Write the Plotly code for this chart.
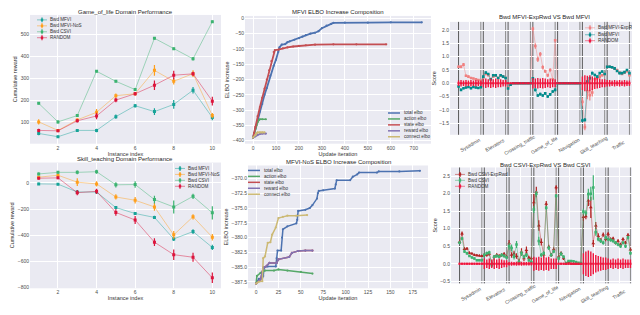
import plotly.graph_objects as go

W, H = 640, 315
FONT = "Liberation Sans, Arial, sans-serif"
BG = "#EAEAF2"
TXT = "#262626"
TICK = "#4d4d4d"

# ---------------- data ----------------
instances = [1, 2, 3, 4, 5, 6, 7, 8, 9, 10]

# Game_of_life domain performance
gol_mfvi = [47, 32, 61, 61, 124, 174, 147, 180, 245, 120]
gol_mfvi_err = [8, 6, 6, 8, 10, 8, 15, 20, 15, 12]
gol_mfvi_nos = [100, 61, 109, 144, 220, 229, 336, 286, 321, 129]
gol_mfvi_nos_err = [12, 6, 8, 15, 10, 8, 25, 15, 15, 12]
gol_csvi = [185, 100, 129, 332, 286, 248, 483, 435, 389, 559]
gol_csvi_err = [5, 8, 6, 5, 6, 6, 6, 6, 8, 5]
gol_random = [61, 59, 105, 127, 200, 229, 268, 314, 320, 195]
gol_random_err = [8, 6, 8, 15, 10, 8, 22, 20, 10, 20]

# Skill_teaching domain performance
sk_mfvi = [-8, -10, -70, -70, -189, -234, -264, -428, -372, -493]
sk_mfvi_err = [8, 8, 15, 15, 12, 12, 12, 15, 18, 20]
sk_mfvi_nos = [43, 58, 5, -8, -108, -133, -184, -397, -259, -415]
sk_mfvi_nos_err = [10, 10, 30, 20, 20, 25, 30, 30, 20, 25]
sk_csvi = [68, 80, 80, 85, -15, -13, -128, -184, -103, -229]
sk_csvi_err = [10, 10, 15, 15, 20, 25, 30, 50, 20, 50]
sk_random = [35, 38, -75, -65, -226, -284, -453, -548, -568, -725]
sk_random_err = [10, 10, 20, 20, 25, 30, 30, 40, 35, 40]

# MFVI ELBO increase composition
mfvi_total_x = [0, 5, 10, 20, 30, 40, 50, 60, 75, 90, 100, 110, 115, 125, 140, 150, 160, 180, 200,
                215, 230, 250, 270, 285, 300, 320, 340, 350, 400, 500, 600, 735]
mfvi_total_y = [-390, -375, -360, -335, -305, -280, -250, -228, -188, -155, -135, -110, -95, -86, -84,
                -78, -75, -70, -65, -60, -55, -50, -47, -42, -32, -24, -18, -15, -14, -14, -13, -13]
mfvi_action_x = [0, 5, 10, 15, 20, 25, 30, 40, 56]
mfvi_action_y = [-390, -375, -362, -350, -340, -333, -330, -330, -330]
mfvi_state_x = [0, 5, 10, 20, 30, 40, 50, 60, 70, 80, 90, 95, 110, 130, 150, 175, 200, 230, 270, 350, 450, 580]
mfvi_state_y = [-390, -375, -355, -320, -290, -260, -230, -200, -170, -140, -110, -104, -102, -98, -95,
                -92, -90, -88, -86, -85, -85, -85]
mfvi_reward_x = [0, 10, 20, 30, 40, 56]
mfvi_reward_y = [-390, -386, -380, -378, -377, -377]
mfvi_connect_x = [0, 10, 15, 20, 30, 40, 50]
mfvi_connect_y = [-390, -382, -376, -373, -373, -373, -373]

# MFVI-NoS ELBO increase composition
nos_total_x = [0, 3, 7, 8, 9, 13, 22, 23, 24, 28, 29, 30, 35, 45, 46, 47, 55, 60, 63, 68, 69, 70, 75,
               88, 89, 90, 105, 108, 113, 115, 135, 137, 160, 183]
nos_total_y = [-387.8, -387.0, -386.8, -386.5, -385.1, -384.9, -384.9, -383.5, -382.2, -382.2, -380.0,
               -378.6, -378.1, -377.6, -377.0, -375.5, -375.3, -375.0, -374.5, -373.4, -372.5, -372.1,
               -372.0, -371.7, -371.0, -370.3, -370.3, -369.7, -369.3, -369.0, -369.0, -368.8, -368.8, -368.7]
nos_action_x = [0, 1, 5, 10, 20, 25, 35, 50, 63]
nos_action_y = [-387.7, -386.5, -386.0, -385.6, -385.6, -385.4, -385.6, -385.8, -386.1]
nos_state_x = [0, 5, 8, 10, 15, 23, 25, 37, 40, 47, 55, 63]
nos_state_y = [-387.8, -387.1, -385.1, -385.0, -384.3, -384.3, -383.7, -383.3, -382.6, -382.3, -382.2, -382.2]
nos_reward_x = [0, 5, 8, 10, 15, 23, 25, 37, 40, 47, 55, 63]
nos_reward_y = [-387.8, -387.1, -385.1, -385.0, -384.3, -384.3, -383.7, -383.3, -382.6, -382.3, -382.2, -382.2]
nos_connect_x = [0, 3, 7, 8, 10, 13, 16, 18, 22, 25, 30, 35, 45, 57]
nos_connect_y = [-387.8, -387.5, -387.4, -383.5, -383.2, -380.9, -380.8, -379.5, -378.3, -376.7, -376.5,
                 -376.3, -376.3, -376.2]

# Domain comparison panels (10 instances per domain)
domains = ["Sysadmin", "Elevators", "Crossing_traffic", "Game_of_life", "Navigation", "Skill_teaching", "Traffic"]
domain_sizes = [10, 10, 10, 10, 10, 10, 10]

mfvi_exprwd = [0.62, 0.62, 0.70, 0.28, 0.25, 0.20, 0.18, 0.15, 0.12, 0.10,
               0.20, 0.35, 0.30, 0.15, 0.25, 0.28, 0.20, 0.28, 0.25, 0.20,
               -0.15, -0.05, 0.0, 0.0, 0.0, 0.0, 0.0, 0.0, 0.0, 0.0,
               2.05, 1.40, 0.90, 1.10, 0.60, 0.45, 0.30, 0.50, 0.15, 1.62,
               0.0, 0.0, 0.0, 0.0, 0.0, 0.0, 0.0, 0.0, 0.0, 0.0,
               -0.70, -1.65, -0.30, -0.45, -0.35, 0.15, 0.20, 0.25, 0.30, 0.35,
               0.62, 0.62, 0.60, 0.55, 0.50, 0.40, 0.35, 0.40, 0.45, 0.30]
mfvi_exprwd_err = [0.05, 0.06, 0.06, 0.04, 0.04, 0.03, 0.03, 0.03, 0.03, 0.03,
                   0.04, 0.04, 0.04, 0.04, 0.04, 0.04, 0.04, 0.04, 0.04, 0.04,
                   0.03, 0.02, 0.01, 0.01, 0.01, 0.01, 0.01, 0.01, 0.01, 0.01,
                   0.08, 0.10, 0.10, 0.08, 0.08, 0.06, 0.06, 0.06, 0.05, 0.05,
                   0.01, 0.01, 0.01, 0.01, 0.01, 0.01, 0.01, 0.01, 0.01, 0.01,
                   0.15, 0.12, 0.30, 0.20, 0.15, 0.10, 0.08, 0.06, 0.05, 0.05,
                   0.04, 0.04, 0.04, 0.04, 0.04, 0.04, 0.04, 0.04, 0.04, 0.04]
mfvi_plain = [-0.12, -0.25, -0.19, -0.16, -0.14, -0.19, -0.14, -0.16, -0.18, -0.15,
              0.25, 0.40, 0.35, 0.15, 0.30, 0.30, 0.20, 0.30, 0.25, 0.20,
              -0.20, -0.05, 0.0, 0.0, 0.0, 0.0, 0.0, 0.0, 0.0, 0.0,
              0.19, -0.25, -0.46, -0.41, -0.46, -0.38, -0.50, -0.42, -0.31, -0.25,
              0.0, 0.0, 0.0, 0.0, 0.0, 0.0, 0.0, 0.0, 0.0, 0.0,
              -1.40, -1.38, 0.06, 0.19, 0.38, 0.31, 0.25, 0.38, 0.44, 0.35,
              0.62, 0.62, 0.60, 0.56, 0.46, 0.38, 0.38, 0.42, 0.50, 0.38]
mfvi_plain_err = [0.04] * 10 + [0.04] * 10 + [0.02] * 10 + [0.05] * 10 + [0.01] * 10 + \
                 [0.06, 0.06, 0.05, 0.05, 0.05, 0.05, 0.04, 0.04, 0.04, 0.04] + [0.04] * 10
mfvi_random_err = [0.10, 0.12, 0.10, 0.12, 0.10, 0.12, 0.10, 0.12, 0.10, 0.10,
                   0.15, 0.18, 0.15, 0.18, 0.15, 0.18, 0.15, 0.15, 0.12, 0.12,
                   0.03, 0.03, 0.03, 0.03, 0.03, 0.03, 0.03, 0.03, 0.03, 0.03,
                   0.20, 0.18, 0.20, 0.18, 0.20, 0.18, 0.15, 0.18, 0.15, 0.15,
                   0.03, 0.03, 0.03, 0.03, 0.03, 0.03, 0.03, 0.03, 0.03, 0.03,
                   0.25, 0.30, 0.28, 0.30, 0.25, 0.22, 0.20, 0.18, 0.15, 0.15,
                   0.12, 0.12, 0.10, 0.12, 0.10, 0.12, 0.10, 0.12, 0.10, 0.10]

csvi_exprwd = [0.62, 0.86, 0.42, 0.43, 0.31, 0.29, 0.25, 0.24, 0.23, 0.22,
               0.25, 0.25, 0.28, 0.0, 0.20, 0.25, 0.22, 0.25, 0.28, 0.20,
               0.58, 0.25, 0.29, 0.22, 0.06, 0.34, 0.15, 0.39, 0.17, 0.15,
               1.75, 2.05, 1.09, 0.62, 0.26, 1.71, 0.48, 0.25, 0.41, 2.18,
               0.20, 0.30, 0.15, 0.0, 0.05, 0.0, 0.0, 0.0, 0.0, 0.0,
               1.33, 1.35, 1.80, 1.61, 0.58, 1.09, 0.79, 0.67, 0.83, 0.70,
               0.85, 0.70, 0.72, 0.60, 0.65, 0.55, 0.70, 0.60, 0.82, 0.40]
csvi_exprwd_err = [0.04, 0.06, 0.05, 0.04, 0.04, 0.03, 0.03, 0.03, 0.03, 0.03,
                   0.05, 0.05, 0.05, 0.05, 0.05, 0.05, 0.05, 0.05, 0.05, 0.05,
                   0.10, 0.08, 0.08, 0.08, 0.08, 0.10, 0.08, 0.10, 0.06, 0.06,
                   0.25, 0.15, 0.15, 0.10, 0.08, 0.08, 0.06, 0.06, 0.06, 0.06,
                   0.05, 0.05, 0.04, 0.02, 0.02, 0.02, 0.02, 0.02, 0.02, 0.02,
                   0.10, 0.08, 0.15, 0.30, 0.10, 0.10, 0.08, 0.06, 0.06, 0.06,
                   0.05, 0.05, 0.05, 0.05, 0.05, 0.05, 0.05, 0.05, 0.05, 0.05]
csvi_plain = [0.60, 0.72, 0.35, 0.30, 0.22, 0.18, 0.15, 0.10, 0.10, 0.10,
              0.25, 0.30, 0.32, -0.04, 0.20, 0.22, 0.20, 0.25, 0.22, 0.18,
              0.50, 0.45, 0.20, 0.55, 0.05, 0.30, 0.20, 0.25, 0.10, 0.05,
              1.55, 2.00, 0.65, 0.25, 0.30, 1.60, 0.45, 0.25, 0.35, 1.94,
              0.15, 0.28, 0.20, 0.02, 0.08, 0.08, 0.07, 0.05, 0.03, 0.02,
              1.49, 1.45, 1.99, 2.00, 2.18, 0.90, 0.70, 0.65, 0.60, 0.75,
              0.70, 0.68, 0.65, 0.60, 0.55, 0.50, 0.60, 0.50, 0.75, 0.30]
csvi_plain_err = [0.04, 0.05, 0.04, 0.04, 0.03, 0.03, 0.03, 0.03, 0.03, 0.03,
                  0.05, 0.05, 0.05, 0.05, 0.05, 0.05, 0.05, 0.05, 0.05, 0.05,
                  0.10, 0.10, 0.08, 0.10, 0.06, 0.08, 0.06, 0.06, 0.05, 0.05,
                  0.10, 0.08, 0.12, 0.06, 0.06, 0.06, 0.06, 0.05, 0.05, 0.05,
                  0.05, 0.06, 0.04, 0.02, 0.02, 0.02, 0.02, 0.02, 0.02, 0.02,
                  0.08, 0.08, 0.15, 0.20, 0.35, 0.10, 0.06, 0.06, 0.06, 0.06,
                  0.05, 0.05, 0.05, 0.05, 0.05, 0.05, 0.05, 0.05, 0.05, 0.05]
csvi_random_err = [0.03, 0.03, 0.03, 0.03, 0.03, 0.03, 0.03, 0.03, 0.03, 0.03,
                   0.15, 0.12, 0.15, 0.12, 0.15, 0.12, 0.15, 0.12, 0.10, 0.10,
                   0.05, 0.06, 0.05, 0.06, 0.05, 0.06, 0.05, 0.05, 0.05, 0.05,
                   0.20, 0.18, 0.20, 0.18, 0.20, 0.18, 0.20, 0.15, 0.15, 0.15,
                   0.03, 0.03, 0.03, 0.03, 0.03, 0.03, 0.03, 0.03, 0.03, 0.03,
                   0.30, 0.35, 0.38, 0.35, 0.30, 0.25, 0.22, 0.20, 0.18, 0.18,
                   0.15, 0.12, 0.15, 0.12, 0.15, 0.12, 0.15, 0.12, 0.12, 0.12]

# ---------------- helpers ----------------
def fx(px):
    return px / W


def fy(py):
    return 1 - py / H


def rgba(hexc, a):
    h = hexc.lstrip("#")
    r, g, b = int(h[0:2], 16), int(h[2:4], 16), int(h[4:6], 16)
    return f"rgba({r},{g},{b},{a})"


C_TEAL = "#17A398"
C_ORANGE = "#FF9F1C"
C_GREEN = "#3CB371"
C_RED = "#DC143C"
C_PINK = "#F08080"
C_DCYAN = "#008B8B"
C_RAND = "#F0143C"
C_FIRE = "#B22222"
D_BLUE = "#4C72B0"
D_GREEN = "#55A868"
D_RED = "#C44E52"
D_PURPLE = "#8172B2"
D_YELLOW = "#CCB974"

fig = go.Figure()


def err_trace(x, y, err, color, ax, symbol="square", size=3.0, alpha=0.45, lw=1.0, ew=1.2):
    fig.add_trace(go.Scatter(
        x=x, y=y, mode="lines+markers",
        line=dict(color=rgba(color, alpha), width=lw),
        marker=dict(symbol=symbol, size=size, color=color, line=dict(width=0)),
        error_y=dict(type="data", array=err, color=color, thickness=ew, width=0),
        xaxis="x" + ax, yaxis="y" + ax, showlegend=False, hoverinfo="skip"))


def line_trace(x, y, color, ax, lw=1.6):
    fig.add_trace(go.Scatter(
        x=x, y=y, mode="lines+markers",
        line=dict(color=color, width=lw),
        marker=dict(size=2.2, color=color),
        xaxis="x" + ax, yaxis="y" + ax, showlegend=False, hoverinfo="skip"))


# top-left: Game_of_life
err_trace(instances, gol_mfvi, gol_mfvi_err, C_TEAL, "")
err_trace(instances, gol_mfvi_nos, gol_mfvi_nos_err, C_ORANGE, "")
err_trace(instances, gol_csvi, gol_csvi_err, C_GREEN, "")
err_trace(instances, gol_random, gol_random_err, C_RED, "")

# top-middle: MFVI ELBO
line_trace(mfvi_total_x, mfvi_total_y, D_BLUE, "2", 1.8)
line_trace(mfvi_action_x, mfvi_action_y, D_GREEN, "2", 1.6)
line_trace(mfvi_state_x, mfvi_state_y, D_RED, "2", 1.8)
line_trace(mfvi_reward_x, mfvi_reward_y, D_PURPLE, "2", 1.6)
line_trace(mfvi_connect_x, mfvi_connect_y, D_YELLOW, "2", 1.6)

# domain index axis for right panels
idx = list(range(sum(domain_sizes)))
starts = [sum(domain_sizes[:i]) for i in range(len(domain_sizes))]
zeros = [0.0] * len(idx)

# top-right: MFVI-ExpRwd vs MFVI
err_trace(idx, mfvi_exprwd, mfvi_exprwd_err, C_PINK, "3", size=2.6, alpha=0.5, lw=0.9)
err_trace(idx, mfvi_plain, mfvi_plain_err, C_DCYAN, "3", size=2.6, alpha=0.5, lw=0.9)
err_trace(idx, zeros, mfvi_random_err, C_RAND, "3", size=2.2, alpha=0.6, lw=0.9, ew=1.4)

# bottom-left: Skill_teaching
err_trace(instances, sk_mfvi, sk_mfvi_err, C_TEAL, "4")
err_trace(instances, sk_mfvi_nos, sk_mfvi_nos_err, C_ORANGE, "4")
err_trace(instances, sk_csvi, sk_csvi_err, C_GREEN, "4")
err_trace(instances, sk_random, sk_random_err, C_RED, "4")

# bottom-middle: MFVI-NoS ELBO
line_trace(nos_total_x, nos_total_y, D_BLUE, "5", 1.5)
line_trace(nos_action_x, nos_action_y, D_GREEN, "5", 1.5)
line_trace(nos_state_x, nos_state_y, D_RED, "5", 1.5)
line_trace(nos_reward_x, nos_reward_y, D_PURPLE, "5", 1.5)
line_trace(nos_connect_x, nos_connect_y, D_YELLOW, "5", 1.5)

# bottom-right: CSVI-ExpRwd vs CSVI
err_trace(idx, csvi_exprwd, csvi_exprwd_err, C_FIRE, "6", symbol="triangle-up", size=3.4, alpha=0.5, lw=0.9)
err_trace(idx, csvi_plain, csvi_plain_err, C_GREEN, "6", size=2.6, alpha=0.5, lw=0.9)
err_trace(idx, zeros, csvi_random_err, C_RAND, "6", size=2.2, alpha=0.6, lw=0.9, ew=1.4)

# ---------------- layout ----------------
panels = {
    "": dict(xd=(22, 213), yd=(6, 136)),
    "2": dict(xd=(237, 423), yd=(7, 136)),
    "3": dict(xd=(442, 630), yd=(13, 127)),
    "4": dict(xd=(22, 213), yd=(155, 282)),
    "5": dict(xd=(240, 420), yd=(158, 282)),
    "6": dict(xd=(443, 631), yd=(160, 277)),
}

tickfont = dict(family=FONT, size=5, color=TICK)
titlefont = dict(family=FONT, size=5.5, color="#333333")
lay = {}
for k, p in panels.items():
    xa = dict(domain=[fx(p["xd"][0]), fx(p["xd"][1])], anchor="y" + k, showgrid=True,
              gridcolor="white", gridwidth=1, zeroline=False, showline=False, ticks="",
              tickfont=tickfont)
    ya = dict(domain=[fy(p["yd"][1]), fy(p["yd"][0])], anchor="x" + k, showgrid=True,
              gridcolor="white", gridwidth=1, zeroline=False, showline=False, ticks="",
              tickfont=tickfont)
    lay["xaxis" + k] = xa
    lay["yaxis" + k] = ya

# ranges / ticks
lay["xaxis"].update(range=[0.55, 10.45], tickvals=[2, 4, 6, 8, 10],
                    title=dict(text="Instance index", font=titlefont, standoff=1))
lay["yaxis"].update(range=[0, 590], tickvals=[100, 200, 300, 400, 500],
                    title=dict(text="Cumulative reward", font=titlefont, standoff=2))
lay["xaxis2"].update(range=[-35, 775], tickvals=[0, 100, 200, 300, 400, 500, 600, 700],
                     title=dict(text="Update iteration", font=titlefont, standoff=1))
lay["yaxis2"].update(range=[-410, 8], tickvals=[-400, -350, -300, -250, -200, -150, -100, -50, 0],
                     title=dict(text="ELBO increase", font=titlefont, standoff=2))
lay["xaxis3"].update(range=[-3.45, 72.45], tickvals=[s + (n - 1) / 2 for s, n in zip(starts, domain_sizes)],
                     showticklabels=False)
lay["yaxis3"].update(range=[-1.94, 2.31], tickvals=[-1.5, -1.0, -0.5, 0.0, 0.5, 1.0, 1.5, 2.0],
                     tickformat=".1f", title=dict(text="Score", font=titlefont, standoff=2))
lay["xaxis4"].update(range=[0.55, 10.45], tickvals=[2, 4, 6, 8, 10],
                     title=dict(text="Instance index", font=titlefont, standoff=1))
lay["yaxis4"].update(range=[-805, 155], tickvals=[-800, -600, -400, -200, 0],
                     title=dict(text="Cumulative reward", font=titlefont, standoff=2))
lay["xaxis5"].update(range=[-9, 192], tickvals=[0, 25, 50, 75, 100, 125, 150, 175],
                     title=dict(text="Update iteration", font=titlefont, standoff=1))
lay["yaxis5"].update(range=[-388.6, -367.8],
                     tickvals=[-387.5, -385.0, -382.5, -380.0, -377.5, -375.0, -372.5, -370.0],
                     tickformat=".1f", title=dict(text="ELBO increase", font=titlefont, standoff=2))
lay["xaxis6"].update(range=[-3.45, 72.45], tickvals=[s + (n - 1) / 2 for s, n in zip(starts, domain_sizes)],
                     showticklabels=False)
lay["yaxis6"].update(range=[-0.56, 2.75], tickvals=[-0.5, 0.0, 0.5, 1.0, 1.5, 2.0, 2.5],
                     tickformat=".1f", title=dict(text="Score", font=titlefont, standoff=2))

shapes = []
annotations = []

# panel titles
titles = [("Game_of_life Domain Performance", 117, 3),
          ("MFVI ELBO Increase Composition", 330, 3),
          ("Bwd MFVI-ExpRwd VS Bwd MFVI", 536, 8),
          ("Skill_teaching Domain Performance", 117, 151),
          ("MFVI-NoS ELBO Increase Composition", 330, 154),
          ("Bwd CSVI-ExpRwd VS Bwd CSVI", 537, 157)]
for t, x, y in titles:
    annotations.append(dict(text=t, x=fx(x), y=fy(y), xref="paper", yref="paper", showarrow=False,
                            font=dict(family=FONT, size=6, color=TXT), xanchor="center", yanchor="middle"))

# domain separators and rotated domain labels
for ax, label_y in (("3", 137), ("6", 288)):
    for s, n in zip(starts, domain_sizes):
        for xv, col in ((s, "#5a5a5a"), (s + n - 1, "#8a8a8a")):
            shapes.append(dict(type="line", xref="x" + ax, yref="y" + ax + " domain", x0=xv, x1=xv,
                               y0=0, y1=1, line=dict(color=col, width=1), layer="below"))
    for s, n, name in zip(starts, domain_sizes, domains):
        annotations.append(dict(text=name, x=s + (n - 1) / 2, y=fy(label_y), xref="x" + ax, yref="paper",
                                showarrow=False, textangle=-30, font=dict(family=FONT, size=5, color=TICK),
                                xanchor="center", yanchor="middle"))


# manual compact legends
def legend(x_marker, x_text, rows_y, items, kind):
    for (label, color), yy in zip(items, rows_y):
        if kind == "err":
            shapes.append(dict(type="line", xref="paper", yref="paper", x0=fx(x_marker - 5), x1=fx(x_marker + 5),
                               y0=fy(yy), y1=fy(yy), line=dict(color=rgba(color, 0.5), width=1)))
            shapes.append(dict(type="line", xref="paper", yref="paper", x0=fx(x_marker), x1=fx(x_marker),
                               y0=fy(yy - 2.5), y1=fy(yy + 2.5), line=dict(color=color, width=1.2)))
            shapes.append(dict(type="rect", xref="paper", yref="paper", x0=fx(x_marker - 1.2), x1=fx(x_marker + 1.2),
                               y0=fy(yy - 1.2), y1=fy(yy + 1.2), fillcolor=color, line=dict(width=0)))
        else:
            shapes.append(dict(type="line", xref="paper", yref="paper", x0=fx(x_marker - 6), x1=fx(x_marker + 6),
                               y0=fy(yy), y1=fy(yy), line=dict(color=color, width=1.5)))
        annotations.append(dict(text=label, x=fx(x_text), y=fy(yy), xref="paper", yref="paper", showarrow=False,
                                xanchor="left", yanchor="middle", font=dict(family=FONT, size=4.6, color="#333333")))


perf_items = [("Bwd MFVI", C_TEAL), ("Bwd MFVI-NoS", C_ORANGE),
              ("Bwd CSVI", C_GREEN), ("RANDOM", C_RED)]
elbo_items = [("total elbo", D_BLUE), ("action elbo", D_GREEN), ("state elbo", D_RED),
              ("reward elbo", D_PURPLE), ("connect elbo", D_YELLOW)]
legend(34, 40, [11, 17, 23, 29], perf_items, "err")
legend(172, 178, [161, 167, 173, 179], perf_items, "err")
legend(386, 394, [105, 111, 117, 123, 129], elbo_items, "line")
legend(246, 254, [163, 169, 175, 181, 187], elbo_items, "line")
legend(582, 588, [19, 26, 32], [("Bwd MFVI-ExpRwd", C_PINK), ("Bwd MFVI", C_DCYAN),
                                ("RANDOM", C_RAND)], "err")
legend(452, 458, [167, 173, 179], [("Bwd CSVI-ExpRwd", C_FIRE), ("Bwd CSVI", C_GREEN),
                                   ("RANDOM", C_RAND)], "err")

fig.update_layout(width=W, height=H, margin=dict(l=0, r=0, t=0, b=0), paper_bgcolor="white",
                  plot_bgcolor=BG, showlegend=False, font=dict(family=FONT, color=TXT),
                  shapes=shapes, annotations=annotations, **lay)

fig.write_html("out.html")
